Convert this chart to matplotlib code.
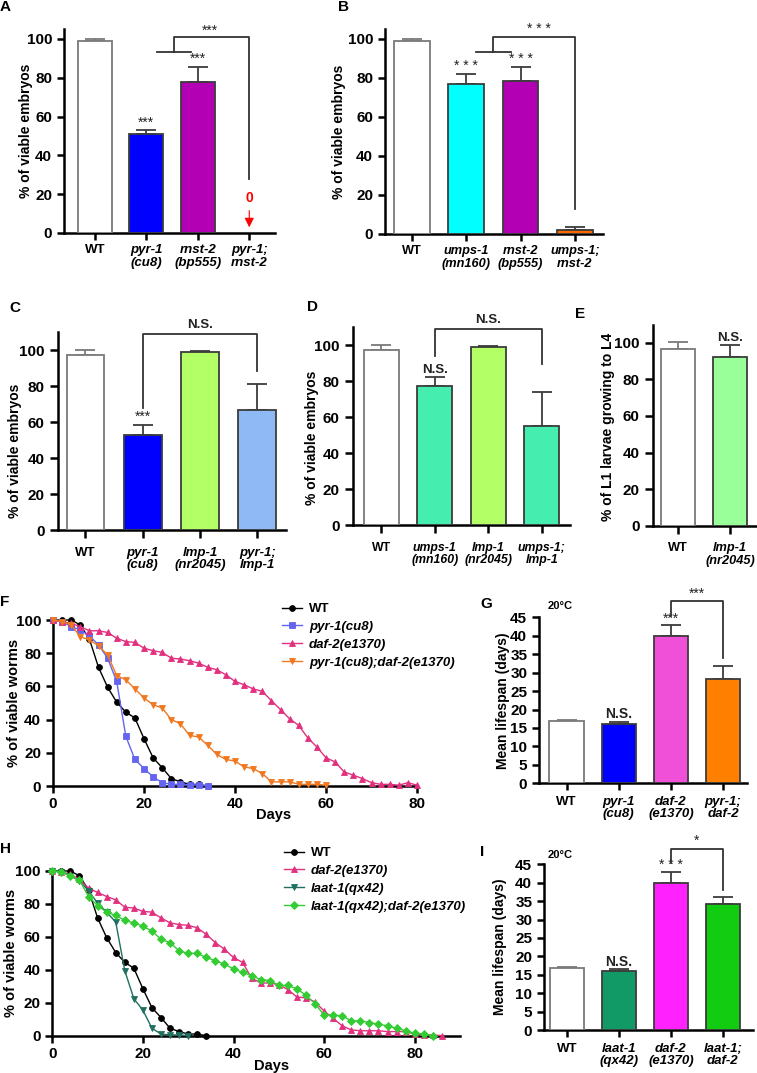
import matplotlib
matplotlib.use('Agg')
import matplotlib.pyplot as plt

plt.rcParams['font.family'] = ['Liberation Sans', 'DejaVu Sans']

W, H = 757, 1073
fig = plt.figure(figsize=(W / 100, H / 100), dpi=100)

# ---------------- data ----------------
A_labels = ['WT', 'pyr-1\n(cu8)', 'rnst-2\n(bp555)', 'pyr-1;\nrnst-2']
A_vals = [99, 51, 78, 0]
A_err = [1, 2, 7.5, 0]
A_colors = ['#FFFFFF', '#0000FF', '#B400B4', 'none']

B_labels = ['WT', 'umps-1\n(mn160)', 'rnst-2\n(bp555)', 'umps-1;\nrnst-2']
B_vals = [99, 77, 78.5, 2]
B_err = [1, 5, 7, 1.5]
B_colors = ['#FFFFFF', '#00FFFF', '#B400B4', '#FF6A00']

C_labels = ['WT', 'pyr-1\n(cu8)', 'lmp-1\n(nr2045)', 'pyr-1;\nlmp-1']
C_vals = [97.5, 53, 99, 66.5]
C_err = [2.5, 5.5, 0.5, 14.5]
C_colors = ['#FFFFFF', '#0000FF', '#B3FF66', '#8FB9F5']

D_labels = ['WT', 'umps-1\n(mn160)', 'lmp-1\n(nr2045)', 'umps-1;\nlmp-1']
D_vals = [97.5, 77, 99, 55]
D_err = [2.5, 5, 0.5, 19]
D_colors = ['#FFFFFF', '#45EEAF', '#B3FF66', '#45EEAF']

E_labels = ['WT', 'lmp-1\n(nr2045)']
E_vals = [96.5, 92]
E_err = [4, 7]
E_colors = ['#FFFFFF', '#99FF99']

G_labels = ['WT', 'pyr-1\n(cu8)', 'daf-2\n(e1370)', 'pyr-1;\ndaf-2']
G_vals = [16.8, 16.1, 40, 28.2]
G_err = [0.3, 0.5, 3, 3.6]
G_colors = ['#FFFFFF', '#0000FF', '#F050D8', '#FF8000']

I_labels = ['WT', 'laat-1\n(qx42)', 'daf-2\n(e1370)', 'laat-1;\ndaf-2']
I_vals = [16.8, 16.1, 40, 34.3]
I_err = [0.3, 0.4, 3, 1.7]
I_colors = ['#FFFFFF', '#119966', '#FF22FF', '#11CC11']

wt_days = [0, 2, 4, 6, 8, 10, 12, 14, 16, 18, 20, 22, 24, 26, 28, 30, 32, 34]
wt_surv = [100, 100, 100, 97, 88.5, 71.5, 59.5, 50.5, 44.5, 41, 28.5, 17, 11, 4.5, 2.5, 1, 1, 0]

pyr1_days = [0, 2, 4, 6, 8, 10, 12, 14, 16, 18, 20, 22, 24, 26, 28, 30, 32, 34]
pyr1_surv = [100, 99, 96, 94, 90.5, 85, 77, 63, 30, 16, 10.5, 5.5, 2, 1, 1, 0.7, 0.7, 0]

daf2F_days = [0, 2, 4, 6, 8, 10, 12, 14, 16, 18, 20, 22, 24, 26, 28, 30, 32, 34, 36, 38,
              40, 42, 44, 46, 48, 50, 52, 54, 56, 58, 60, 62, 64, 66, 68, 70, 72, 74, 76, 78, 80]
daf2F_surv = [100, 99, 98, 96, 93.5, 93.5, 92.5, 89, 87, 86.5, 83, 81.5, 80.5, 77, 76.5, 75.5,
              74, 71.5, 70, 67, 63, 61, 58.5, 57, 51.5, 46, 40.5, 36.5, 29, 23.5, 17, 14.5, 8.5,
              6.5, 4.5, 2, 1, 1, 0.5, 2, 0.5]

pyrdaf_days = [0, 2, 4, 6, 8, 10, 12, 14, 16, 18, 20, 22, 24, 26, 28, 30, 32, 34, 36, 38,
               40, 42, 44, 46, 48, 50, 52, 54, 56, 58, 60]
pyrdaf_surv = [100, 99, 97, 90, 88, 84.5, 79, 66.5, 64, 58.5, 53, 49, 47, 40, 37.5, 30.5, 29.5,
               24.5, 19, 16, 15, 11.5, 10.5, 7.5, 2.5, 2.5, 2.5, 1, 1, 1, 0.5]

daf2H_days = [0, 2, 4, 6, 8, 10, 12, 14, 16, 18, 20, 22, 24, 26, 28, 30, 32, 34, 36, 38, 40, 42,
              44, 46, 48, 50, 52, 54, 56, 58, 60, 62, 64, 66, 68, 70, 72, 74, 76, 78, 80, 82, 84, 86]
daf2H_surv = [100, 99.5, 98, 95, 89.5, 87, 84.5, 82.5, 78, 77.5, 75.5, 75, 71.5, 68.5, 67.5, 67,
              65.5, 61.5, 56.5, 52.5, 47.5, 44.5, 35, 32, 32, 31, 28, 23.5, 23, 20.5, 15, 10.5, 6,
              3.5, 3, 3, 3, 2.5, 2.5, 2.5, 1, 0.5, 0.5, 0]

laat1_days = [0, 2, 4, 6, 8, 10, 12, 14, 16, 18, 20, 22, 24, 26, 28, 30]
laat1_surv = [100, 99.5, 97, 94, 88, 80.5, 75, 69, 39.5, 22.5, 15.5, 4.5, 1, 0.5, 0.5, 0]

laatdaf_days = [0, 2, 4, 6, 8, 10, 12, 14, 16, 18, 20, 22, 24, 26, 28, 30, 32, 34, 36, 38, 40, 42,
                44, 46, 48, 50, 52, 54, 56, 58, 60, 62, 64, 66, 68, 70, 72, 74, 76, 78, 80, 82, 84]
laatdaf_surv = [100, 99.5, 97, 94.5, 84.5, 79, 75, 73, 70, 68.5, 66.5, 63.5, 58.5, 56.5, 51.5, 50,
                50, 47.5, 45.5, 43.5, 40.5, 38.5, 36.5, 34, 33.5, 30.5, 30.5, 28.5, 24.5, 19.5,
                12.5, 12.5, 12, 9, 9, 8, 7, 6, 4.5, 3, 1.5, 1, 0]

F_labels = ['WT', 'pyr-1(cu8)', 'daf-2(e1370)', 'pyr-1(cu8);daf-2(e1370)']
H_labels = ['WT', 'daf-2(e1370)', 'laat-1(qx42)', 'laat-1(qx42);daf-2(e1370)']

# ---------------- helpers ----------------
LINE = '#333333'


def add_axes_px(l, t, r, b):
    return fig.add_axes([l / W, 1 - b / H, (r - l) / W, (b - t) / H])


def style_axes(ax, tick_len=5, pad=3):
    for s in ['top', 'right']:
        ax.spines[s].set_visible(False)
    for s in ['left', 'bottom']:
        ax.spines[s].set_linewidth(1.8)
    ax.tick_params(axis='both', width=1.8, length=tick_len, labelsize=11)
    ax.tick_params(axis='x', pad=pad)
    for t in ax.get_yticklabels():
        t.set_fontweight('bold')


def bar_panel(rect, labels, vals, errs, colors, ylim, yticks, xlim, ylabel,
              ylabel_xpx, ylabel_yfrac=0.5, xpad=3, tick_len=5, xfs=9.5):
    l, t, r, b = rect
    ax = add_axes_px(l, t, r, b)
    x = list(range(len(vals)))
    edges = []
    for i, v in enumerate(vals):
        if v == 0:
            edges.append('none')
        elif i == 0:
            edges.append('#7a7a7a')
        else:
            edges.append('#3c3c3c')
    ax.bar(x, vals, width=0.66, color=colors, edgecolor=edges, linewidth=1.3, zorder=3)
    for xi, v, e, ec in zip(x, vals, errs, edges):
        if e > 0:
            ax.errorbar([xi], [v], yerr=[[0], [e]], fmt='none', ecolor=ec,
                        elinewidth=1.3, capsize=7, capthick=1.3, zorder=2)
    ax.set_xlim(*xlim)
    ax.set_ylim(*ylim)
    ax.set_yticks(yticks)
    ax.set_xticks(x)
    style_axes(ax, tick_len=tick_len, pad=xpad)
    ax.set_xticklabels(labels, fontsize=xfs, fontweight='bold', linespacing=1.05)
    for i, tl in enumerate(ax.get_xticklabels()):
        if i > 0:
            tl.set_fontstyle('italic')
    ax.set_ylabel(ylabel, fontsize=10, fontweight='bold')
    ax.yaxis.set_label_coords((ylabel_xpx + 6 - l) / (r - l), ylabel_yfrac)
    return ax


def bracket(ax, pts):
    xs = [p[0] for p in pts]
    ys = [p[1] for p in pts]
    ax.plot(xs, ys, color=LINE, lw=1.3, clip_on=False, zorder=4)


def stars(ax, x, y, s='***', size=10, weight='normal'):
    ax.text(x, y, s, ha='center', va='bottom', fontsize=size, fontweight=weight,
            color='#222222', clip_on=False)


# ---------------- Panel A ----------------
axA = bar_panel((64, 29.3, 275, 233), A_labels, A_vals, A_err, A_colors, (0, 105),
                [0, 20, 40, 60, 80, 100], (-0.6, 3.5), '% of viable embryos', 27)
stars(axA, 1, 53.3)
stars(axA, 2, 86)
bracket(axA, [(1.2, 93.4), (1.87, 93.4)])
bracket(axA, [(1.53, 93.4), (1.53, 100.9), (3, 100.9), (3, 28)])
stars(axA, 2.24, 100.5)
axA.text(3, 18, '0', color='red', ha='center', va='center', fontsize=10, fontweight='bold')
axA.annotate('', xy=(3, 1.5), xytext=(3, 13),
             arrowprops=dict(arrowstyle='-|>', color='red', lw=0.8, mutation_scale=14))

# ---------------- Panel B ----------------
axB = bar_panel((385, 29, 603, 234), B_labels, B_vals, B_err, B_colors, (0, 105),
                [0, 20, 40, 60, 80, 100], (-0.5, 3.52), '% of viable embryos', 340, xfs=9.2)
stars(axB, 1, 82.5, '* * *')
stars(axB, 2, 86, '* * *')
bracket(axB, [(1.18, 93.4), (1.83, 93.4)])
bracket(axB, [(1.5, 93.4), (1.5, 101), (3, 101), (3, 13)])
stars(axB, 2.34, 101.3, '* * *')

# ---------------- Panel C ----------------
axC = bar_panel((58, 332, 286, 530), C_labels, C_vals, C_err, C_colors, (0, 110),
                [0, 20, 40, 60, 80, 100], (-0.48, 3.5), '% of viable embryos', 16,
                ylabel_yfrac=0.4, xpad=6, tick_len=6)
stars(axC, 1, 58.8)
bracket(axC, [(1, 67.6), (1, 108.7), (3, 108.7), (3, 88.3)])
stars(axC, 2, 110.5, 'N.S.', size=9.5, weight='bold')

# ---------------- Panel D ----------------
axD = bar_panel((353, 327, 570, 525.3), D_labels, D_vals, D_err, D_colors, (0, 110),
                [0, 20, 40, 60, 80, 100], (-0.53, 3.53), '% of viable embryos', 313,
                ylabel_yfrac=0.44, xpad=6, tick_len=6, xfs=8.8)
stars(axD, 1, 83, 'N.S.', size=9.5, weight='bold')
bracket(axD, [(1, 93.7), (1, 109), (3, 109), (3, 89.4)])
stars(axD, 2, 110.5, 'N.S.', size=9.5, weight='bold')

# ---------------- Panel E ----------------
axE = bar_panel((653, 324.5, 757, 525.7), E_labels, E_vals, E_err, E_colors, (0, 110),
                [0, 20, 40, 60, 80, 100], (-0.48, 1.52), '% of L1 larvae growing to L4', 609,
                ylabel_yfrac=0.49, xpad=6, tick_len=6, xfs=9.2)
stars(axE, 1, 99.6, 'N.S.', size=9.5, weight='bold')

# ---------------- Panel G ----------------
axG = bar_panel((539, 617.3, 747, 783.3), G_labels, G_vals, G_err, G_colors, (0, 45),
                list(range(0, 46, 5)), (-0.53, 3.46), 'Mean lifespan (days)', 504, xpad=4)
stars(axG, 1, 16.8, 'N.S.', size=10, weight='bold')
stars(axG, 2, 42.8)
bracket(axG, [(2, 45.3), (2, 49.4), (3, 49.4), (3, 34.1)])
stars(axG, 2.5, 49.6)
axG.text(-0.36, 48, '20°C', ha='left', va='center', fontsize=8, fontweight='bold')

# ---------------- Panel I ----------------
axI = bar_panel((544, 864.3, 753, 1030), I_labels, I_vals, I_err, I_colors, (0, 45),
                list(range(0, 46, 5)), (-0.44, 3.58), 'Mean lifespan (days)', 501, xpad=4)
stars(axI, 1, 16.6, 'N.S.', size=10, weight='bold')
stars(axI, 2, 42.8, '* * *')
bracket(axI, [(2, 45.3), (2, 49.2), (3, 49.2), (3, 38)])
stars(axI, 2.5, 49.4, '*')
axI.text(-0.37, 47.4, '20°C', ha='left', va='center', fontsize=8, fontweight='bold')


# ---------------- Survival panels ----------------
def survival_panel(rect, series, xlim, legend_labels, legend_anchor_px, xlabel_px, ylabel_xpx):
    l, t, r, b = rect
    ax = add_axes_px(l, t, r, b)
    handles = []
    for days, surv, color, marker, ms in series:
        h, = ax.plot(days, surv, color=color, marker=marker, markersize=ms, lw=1.0,
                     markeredgewidth=0.6, clip_on=False, zorder=3)
        handles.append(h)
    ax.set_xlim(*xlim)
    ax.set_ylim(0, 100)
    ax.set_xticks([0, 20, 40, 60, 80])
    ax.set_yticks([0, 20, 40, 60, 80, 100])
    style_axes(ax)
    for tl in ax.get_xticklabels():
        tl.set_fontweight('bold')
    ax.set_xlabel('Days', fontsize=10.5, fontweight='bold')
    ax.xaxis.set_label_coords((xlabel_px[0] - l) / (r - l), (b - xlabel_px[1]) / (b - t))
    ax.set_ylabel('% of viable worms', fontsize=10.5, fontweight='bold')
    ax.yaxis.set_label_coords((ylabel_xpx + 6 - l) / (r - l), 0.5)
    leg = ax.legend(handles, legend_labels, loc='upper left',
                    bbox_to_anchor=(legend_anchor_px[0] / W, 1 - legend_anchor_px[1] / H),
                    bbox_transform=fig.transFigure, frameon=False,
                    prop={'weight': 'bold', 'size': 9.5}, handlelength=1.5,
                    handletextpad=0.55, labelspacing=0.42, borderpad=0, borderaxespad=0)
    for i, txt in enumerate(leg.get_texts()):
        if i > 0:
            txt.set_fontstyle('italic')
    return ax


axF = survival_panel((53, 620, 417, 786),
                     [(wt_days, wt_surv, '#000000', 'o', 4.2),
                      (pyr1_days, pyr1_surv, '#6464F0', 's', 4.2),
                      (daf2F_days, daf2F_surv, '#E2307F', '^', 4.2),
                      (pyrdaf_days, pyrdaf_surv, '#F07820', 'v', 4.6)],
                     (0, 80), F_labels, (282, 603), (274, 808), 15)

axH = survival_panel((52.3, 871, 460, 1035.7),
                     [(wt_days, wt_surv, '#000000', 'o', 4.2),
                      (daf2H_days, daf2H_surv, '#E2307F', '^', 4.2),
                      (laat1_days, laat1_surv, '#1F7060', 'v', 4.2),
                      (laatdaf_days, laatdaf_surv, '#33CC33', 'D', 3.6)],
                     (0, 90), H_labels, (284, 847), (272, 1059), 12)

# ---------------- panel letters ----------------
for letter, xp, yp in [('A', 0, 7), ('B', 338, 7), ('C', 9, 308), ('D', 307, 307),
                       ('E', 575, 314), ('F', 0, 602), ('G', 480, 604), ('H', 0, 849),
                       ('I', 480, 852)]:
    fig.text(xp / W, 1 - yp / H, letter, ha='left', va='center', fontsize=11, fontweight='bold')

fig.savefig('out.png', dpi=100)
